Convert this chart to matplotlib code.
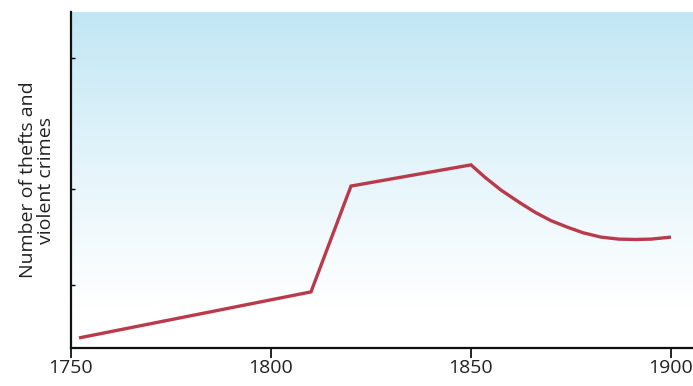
import numpy as np
import matplotlib.pyplot as plt

plt.rcParams['font.family'] = ['Open Sans', 'DejaVu Sans']

# Crime trend (arbitrary index, no scale shown)
years = [1752, 1810, 1820, 1850, 1853.5, 1857.5, 1862, 1866, 1870, 1874,
         1878, 1882.5, 1887, 1891, 1895, 1900]
crimes = [3.0, 16.7, 48.2, 54.5, 50.8, 47.0, 43.4, 40.4, 37.9, 36.0,
          34.3, 33.0, 32.4, 32.3, 32.4, 33.0]
xticks = [1750, 1800, 1850, 1900]

fig = plt.figure(figsize=(6.93, 3.86), dpi=100)
ax = fig.add_axes([71 / 693, 1 - 348 / 386, 1 - 71 / 693, 336 / 386])

ax.set_xlim(1750, 1905.5)
ax.set_ylim(0, 100)

# pale blue sky fading smoothly to white
t = np.linspace(0, 1, 256)
fade = np.clip((t - 0.12) / 0.88, 0, 1)
fade = fade ** 1.1
top = np.array([0.76, 0.905, 0.96])
grad = 1 - fade[:, None] * (1 - top[None, :])
ax.imshow(grad[:, None, :], aspect='auto', origin='lower',
          extent=[0, 1, 0, 1], transform=ax.transAxes, zorder=0,
          interpolation='bilinear')

ax.plot(years, crimes, color='#b83a4b', lw=2.4, solid_joinstyle='miter',
        solid_capstyle='butt', zorder=3)

for s in ['top', 'right']:
    ax.spines[s].set_visible(False)
for s in ['left', 'bottom']:
    ax.spines[s].set_linewidth(1.6)
    ax.spines[s].set_color('#111111')

ax.set_xticks(xticks)
ax.tick_params(axis='x', direction='out', length=7, width=1.2, labelsize=14,
               pad=1, labelcolor='#222222')
ax.set_yticks([18.8, 47.3, 86.3])
ax.set_yticklabels([])
ax.tick_params(axis='y', direction='in', length=3, width=1)

ax.set_ylabel('Number of thefts and\nviolent crimes', fontsize=14, labelpad=8,
              linespacing=1.0, color='#222222')

fig.savefig('out.png', dpi=100)
